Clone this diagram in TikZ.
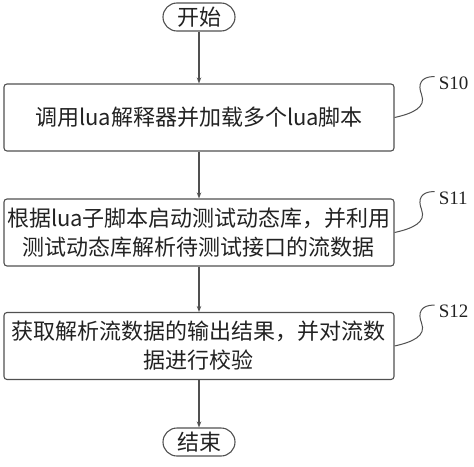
\documentclass[tikz,border=0pt]{standalone}
\usepackage{fontspec}
\setmainfont{Liberation Serif}
\newfontfamily\cjk{Noto Sans CJK SC}
\usetikzlibrary{arrows.meta,calc}
\definecolor{linha}{HTML}{505050}
\definecolor{texto}{HTML}{222222}
\tikzset{
  caixa/.style={draw=linha, line width=1.1pt, rounded corners=3pt, minimum width=390pt, minimum height=67pt, inner sep=0pt, align=center, text=texto, font=\cjk\fontsize{22}{29}\selectfont},
  terminal/.style={draw=linha, line width=1.1pt, rounded corners=14pt, minimum width=72pt, minimum height=28pt, inner sep=0pt, text=texto, font=\cjk\fontsize{22}{26}\selectfont},
  seta/.style={draw=linha, line width=1.1pt, -{Stealth[length=6pt,width=4.5pt]}},
  guia/.style={draw=linha, line width=1pt},
  rotulo/.style={anchor=north west, inner sep=0pt, xshift=4pt, text=texto, font=\fontsize{19}{19}\selectfont}
}
\begin{document}
\begin{tikzpicture}[x=1pt,y=-1pt]  %escala em pixels, y para baixo
    \useasboundingbox (0,0) rectangle (474,466);
        %Blocos
    \node[terminal] (inicio) at (199,17) {开始};
    \node[caixa] (passo1) at (199,117.5) {调用lua解释器并加载多个lua脚本};
    \node[caixa] (passo2) at (199,232.5) {根据lua子脚本启动测试动态库，并利用\\测试动态库解析待测试接口的流数据};
    \node[caixa] (passo3) at (199,346) {获取解析流数据的输出结果，并对流数\\据进行校验};
    \node[terminal] (fim) at (199,442) {结束};
        %Setas
    \draw[seta] (inicio) -- (passo1);
    \draw[seta] (passo1) -- (passo2);
    \draw[seta] (passo2) -- (passo3);
    \draw[seta] (passo3) -- (fim);
        %Linhas guia dos rotulos
    \draw[guia] (passo1.east) .. controls ($(passo1.east)+(18,-4)$) and ($(passo1.east)+(32,-10)$) .. ($(passo1.east)+(27,-23)$)
        .. controls ($(passo1.east)+(23,-33)$) and ($(passo1.east)+(26,-41)$) .. ($(passo1.east)+(40,-41)$) coordinate (f1);
    \node[rotulo] (s10) at (f1) {S10};
    \draw[guia] (passo2.east) .. controls ($(passo2.east)+(18,-4)$) and ($(passo2.east)+(32,-10)$) .. ($(passo2.east)+(27,-23)$)
        .. controls ($(passo2.east)+(23,-33)$) and ($(passo2.east)+(26,-41)$) .. ($(passo2.east)+(40,-41)$) coordinate (f2);
    \node[rotulo] (s11) at (f2) {S11};
    \draw[guia] (passo3.east) .. controls ($(passo3.east)+(18,-4)$) and ($(passo3.east)+(32,-10)$) .. ($(passo3.east)+(27,-23)$)
        .. controls ($(passo3.east)+(23,-33)$) and ($(passo3.east)+(26,-41)$) .. ($(passo3.east)+(40,-41)$) coordinate (f3);
    \node[rotulo] (s12) at (f3) {S12};
\end{tikzpicture}
\end{document}
